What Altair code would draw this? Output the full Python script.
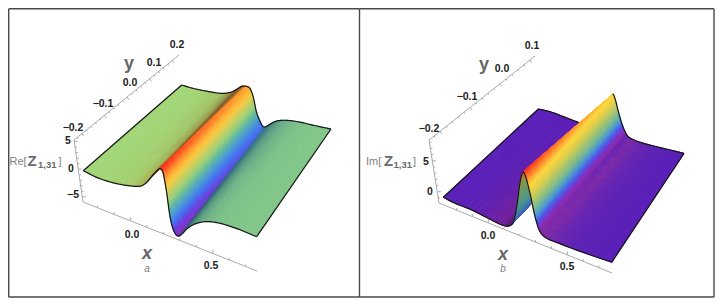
import altair as alt

alt.data_transformers.disable_max_rows()

# ---------- values ----------
A_U_NEAR = [0, .08, .18, .27, .33, .365, .40, .42, .442, .46, .48, .50, .52, .545, .57, .60, .645, .71, .79, .89, 1]
A_U_FAR = [0, .08, .18, .27, .33, .365, .40, .42, .437, .458, .48, .50, .525, .547, .57, .60, .645, .71, .79, .89, 1]
A_Z_NEAR = [0, -.3, -.1, .5, 1.2, 2.3, 4.1, 5.0, 5.85, 5.3, 2.0, -2.4, -4.7, -5.5, -4.8, -3.4, -2, -.75, -.1, .1, 0]
A_Z_FAR = [0, 0, .3, .75, 1.6, 2.5, 3.5, 3.75, 3.85, 3.6, 1.9, -1, -2.9, -3.85, -3.5, -2.6, -1.6, -.9, -.5, -.3, 0]
A_C_NEAR = ["#a3d678", "#a3d678", "#a3d474", "#a6ce6c", "#a8b858", "#a89a48", "#8f6030", "#8a4a22",
            None, None, None, None, None, None,
            "#2e5a6c", "#3a7078", "#5a9a80", "#74b888", "#80c48a", "#82c68a", "#82c68a"]
A_C_FAR = ["#a3d678", "#a3d678", "#a3d070", "#a0c068", "#94964a", "#806a3a", "#7a5a2c", "#b8702a",
           None, None, None, None, None, None,
           "#3a7a90", "#40808a", "#5a9a84", "#6fb088", "#7dc08a", "#82c68a", "#82c68a"]
A_CMAP_Z = [-5.6, -4.8, -3.8, -2.6, -1.3, 0, 1.5, 2.8, 3.8, 4.8, 5.8]
A_CMAP_C = ["#8a2fc0", "#6a3fe0", "#4470f0", "#4a98d8", "#5fb8a0", "#93cf7c", "#c8d060", "#f8c840",
            "#feae35", "#ff7a28", "#fb3820"]

B_U_NEAR = [0, .069, .168, .267, .347, .39, .416, .436, .455, .471, .489, .515, .545, .574, .614, .673, .792, 1]
B_U_FAR = [0, .08, .172, .275, .37, .42, .447, .467, .488, .51, .528, .55, .58, .61, .65, .71, .812, 1]
B_Z_NEAR = [0, -.22, -.25, -.55, -.75, -.5, .4, 2.85, 6.55, 8.35, 7.85, 5.6, 2.4, .45, -.15, -.2, -.2, 0]
B_Z_FAR = [0, .15, 0, -.2, -.3, -.3, .3, 2.0, 4.6, 6.45, 5.7, 3.7, 1.45, .1, -.3, -.4, -.3, 0]
B_C_NEAR = ["#5a20b8", "#5a20b8", "#5e20b4", "#6a20a8", "#75209a", "#5a1a70", "#3a60b8", "#4a9a90", "#8a9a40",
            None, None, None, None, None, "#7a28a8", "#6a26b0", "#5c22b6", "#5a20b8"]
B_C_FAR = ["#5a20b8", "#5a20b8", "#5a20b8", "#5c20b6", "#60209f", "#5a1a70", "#3a60b8", "#4a9a90", "#8a9a40",
           None, None, None, None, None, "#7a28a8", "#6a26b0", "#5c22b6", "#5a20b8"]
B_CMAP_Z = [-.3, 0, .5, 1.0, 1.6, 2.4, 3.3, 4.4, 5.5, 6.4, 7.1, 7.8, 8.4]
B_CMAP_C = ["#5a20b8", "#5a20b8", "#8a2aa8", "#7a30c8", "#4a58e8", "#4a98d0", "#78b890", "#b0c868", "#e8d048",
            "#fdd840", "#ffa835", "#ff6a28", "#fb2f20"]

PANELS = [
    dict(un=A_U_NEAR, uf=A_U_FAR, zn=A_Z_NEAR, zf=A_Z_FAR, cn=A_C_NEAR, cf=A_C_FAR, mz=A_CMAP_Z, mc=A_CMAP_C,
         nl=(83.3, 170.7), nr=(256.7, 236.7), fl=(181.7, 85), fr=(331, 129), kn=5.33, kf=4.6,
         far_hidden=(), o=(74, 140), yend=(179, 55), zend=(83, 202), xend=(257, 271),
         xr=(-.287, .77), yr=(-.235, .23), zr=(5.3, -5.9), yticks=22, yfirst=-.22),
    dict(un=B_U_NEAR, uf=B_U_FAR, zn=B_Z_NEAR, zf=B_Z_FAR, cn=B_C_NEAR, cf=B_C_FAR, mz=B_CMAP_Z, mc=B_CMAP_C,
         nl=(443.3, 197.3), nr=(611.7, 262.3), fl=(538.3, 109), fr=(684, 153.3), kn=6.67, kf=5.8,
         far_hidden=(3, 9), o=(429, 140), yend=(535, 56), zend=(439, 203), xend=(612, 273),
         xr=(-.31, .785), yr=(-.237, .117), zr=(8.4, -1.8), yticks=17, yfirst=-.22),
]

LABELS = [
    ("0.2", 177, 45), ("0.1", 154, 63), ("0.0", 130, 83), ("−0.1", 103, 104), ("−0.2", 73, 128),
    ("5", 68, 141), ("0", 71, 169), ("−5", 73, 195), ("0.0", 132, 235), ("0.5", 211, 266),
    ("0.1", 532, 46), ("0.0", 502, 69), ("−0.1", 467, 97), ("−0.2", 429, 129),
    ("5", 426, 162), ("0", 430, 192), ("0.0", 488, 236), ("0.5", 567, 267),
]
TITLES = [("y", 129, 64, 18, "normal"), ("y", 484, 65, 18, "normal"), ("x", 147, 254, 18, "italic"), ("x", 503, 255, 18, "italic")]
SMALL = [("a", 147, 269), ("b", 503, 269)]
ZLAB = [("Re[", 9.5, 161.5, 11, "normal"), ("Z", 27.5, 161, 15, "bold"), ("1,31", 38, 165, 9.5, "bold"), ("]", 58.5, 161.5, 11, "normal"),
        ("Im[", 366, 161.5, 11, "normal"), ("Z", 384, 161, 15, "bold"), ("1,31", 393.5, 165, 9.5, "bold"), ("]", 413, 161.5, 11, "normal")]
FRAME = [(8.7, 8.7, 8.7, 297), (8.7, 8.7, 359.5, 8.7), (8.7, 297, 359.5, 297), (359.5, 8.7, 359.5, 297),
         (359.5, 8.7, 714, 8.7), (359.5, 297, 714, 297), (714, 8.7, 714, 297)]


# ---------- drawing helpers ----------
def lerp(a, b, t):
    return a + (b - a) * t


def hx(c):
    return [int(c[i:i + 2], 16) for i in (1, 3, 5)]


def mix(c1, c2, t):
    return [lerp(a, b, t) for a, b in zip(c1, c2)]


def cmap(p, z):
    zs, cs = p["mz"], p["mc"]
    if z <= zs[0]:
        return hx(cs[0])
    for j in range(len(zs) - 1):
        if z <= zs[j + 1]:
            return mix(hx(cs[j]), hx(cs[j + 1]), (z - zs[j]) / (zs[j + 1] - zs[j]))
    return hx(cs[-1])


def slopes(u, z):
    n = len(u)
    return [(z[min(i + 1, n - 1)] - z[max(i - 1, 0)]) / (u[min(i + 1, n - 1)] - u[max(i - 1, 0)]) for i in range(n)]


def herm(u, z, m, i, t):
    h = u[i + 1] - u[i]
    return ((2 * t**3 - 3 * t**2 + 1) * z[i] + (t**3 - 2 * t**2 + t) * h * m[i]
            + (-2 * t**3 + 3 * t**2) * z[i + 1] + (t**3 - t**2) * h * m[i + 1])


def surface_fn(p):
    mn, mf = slopes(p["un"], p["zn"]), slopes(p["uf"], p["zf"])

    def point(i, t, v):
        un, uf = lerp(p["un"][i], p["un"][i + 1], t), lerp(p["uf"][i], p["uf"][i + 1], t)
        zn, zf = herm(p["un"], p["zn"], mn, i, t), herm(p["uf"], p["zf"], mf, i, t)
        nx = lerp(p["nl"][0], p["nr"][0], un)
        ny = lerp(p["nl"][1], p["nr"][1], un) - p["kn"] * zn
        fx = lerp(p["fl"][0], p["fr"][0], uf)
        fy = lerp(p["fl"][1], p["fr"][1], uf) - p["kf"] * zf
        return lerp(nx, fx, v), lerp(ny, fy, v), lerp(zn, zf, v)
    return point


def node_color(p, i, v):
    cn, cf = p["cn"][i], p["cf"][i]
    if cn is None:
        return cmap(p, lerp(p["zn"][i], p["zf"][i], v))
    return mix(hx(cn), hx(cf), v)


def cell_color(p, i, t, v, z):
    if p["cn"][i] is None and p["cn"][i + 1] is None:
        return cmap(p, z)
    return mix(node_color(p, i, v), node_color(p, i + 1, v), t)


def diff(c1, c2):
    return max(abs(a - b) for a, b in zip(c1, c2))


cells, edges, ticks = [], [], []
cid = 0
eid = 0
for p in PANELS:
    pt = surface_fn(p)
    n = len(p["un"])
    for i in range(n - 1):
        du = max(diff(node_color(p, i, v), node_color(p, i + 1, v)) for v in (0, 1))
        dv = max(diff(node_color(p, i, 0), node_color(p, i, 1)), diff(node_color(p, i + 1, 0), node_color(p, i + 1, 1)))
        nt = max(3, min(12, int(du / 5) + 1))
        nv = max(1, min(14, int(dv / 5) + 1))
        for a in range(nt):
            t0, t1 = a / nt, (a + 1) / nt
            for b in range(nv):
                v0, v1 = 1 - b / nv, 1 - (b + 1) / nv
                tm, vm = (t0 + t1) / 2, (v0 + v1) / 2
                c = cell_color(p, i, tm, vm, pt(i, tm, vm)[2])
                col = "#%02x%02x%02x" % tuple(int(round(max(0, min(255, q)))) for q in c)
                corners = [(t0, v0), (t1, v0), (t1, v1), (t0, v1), (t0, v0)]
                for k, (tt, vv) in enumerate(corners):
                    x, y, _ = pt(i, tt, vv)
                    cells.append({"x": round(x, 2), "y": round(y, 2), "k": k, "c": col, "id": cid})
                cid += 1
    # edge outline: near curve, far curve and both straight sides
    for v in (0, 1):
        k = 0
        for i in range(n - 1):
            if v == 1 and p["far_hidden"] and p["far_hidden"][0] <= i < p["far_hidden"][1]:
                eid += 1
                continue
            for a in range(8):
                x, y, _ = pt(i, a / 8, v)
                edges.append({"x": round(x, 2), "y": round(y, 2), "k": k, "id": eid})
                k += 1
            if i == n - 2 or (v == 1 and p["far_hidden"] and i + 1 == p["far_hidden"][0]):
                x, y, _ = pt(i, 1, v)
                edges.append({"x": round(x, 2), "y": round(y, 2), "k": k, "id": eid})
        eid += 1
    for c0, c1 in ((p["nl"], p["fl"]), (p["nr"], p["fr"])):
        edges.append({"x": c0[0], "y": c0[1], "k": 0, "id": eid})
        edges.append({"x": c1[0], "y": c1[1], "k": 1, "id": eid})
        eid += 1

    # axes
    ox, oy = p["zend"]
    xe, ye = p["xend"]
    ax = [{"x": p["o"][0], "y": p["o"][1], "x2": p["yend"][0], "y2": p["yend"][1]},
          {"x": p["o"][0], "y": p["o"][1], "x2": ox, "y2": oy},
          {"x": ox, "y": oy, "x2": xe, "y2": ye}]
    ticks.extend(ax)
    lo, hi = p["xr"]
    for q in range(-2, 8):
        val = q / 10
        f = (val - lo) / (hi - lo)
        L = 3.5 if q % 5 == 0 else 2
        px, py = lerp(ox, xe, f), lerp(oy, ye, f)
        ticks.append({"x": px, "y": py, "x2": px + .2 * L, "y2": py - L})
    lo, hi = p["yr"]
    for q in range(p["yticks"]):
        val = p["yfirst"] + q * .02
        f = (val - lo) / (hi - lo)
        if 0 <= f <= 1:
            L = 3.5 if q % 5 == 1 else 2
            px, py = lerp(p["o"][0], p["yend"][0], f), lerp(p["o"][1], p["yend"][1], f)
            ticks.append({"x": px, "y": py, "x2": px + .5 * L, "y2": py + .75 * L})
    hi, lo = p["zr"]
    for q in range(int(lo), int(hi) + 1):
        f = (hi - q) / (hi - lo)
        L = 3.5 if q % 5 == 0 else 2
        px, py = lerp(p["o"][0], ox, f), lerp(p["o"][1], oy, f)
        ticks.append({"x": px, "y": py, "x2": px + L, "y2": py - .1 * L})

X = alt.X("x:Q", scale=alt.Scale(domain=[8, 715], nice=False, zero=False), axis=None)
Y = alt.Y("y:Q", scale=alt.Scale(domain=[302, 8], nice=False, zero=False), axis=None)

frame = alt.Chart(alt.Data(values=[dict(x=a, y=b, x2=c, y2=d) for a, b, c, d in FRAME])).mark_rule(
    color="#4a4a4a", strokeWidth=1.4).encode(x=X, y=Y, x2="x2:Q", y2="y2:Q")
axes = alt.Chart(alt.Data(values=ticks)).mark_rule(color="#a9a9a9", strokeWidth=1).encode(x=X, y=Y, x2="x2:Q", y2="y2:Q")
surf = alt.Chart(alt.Data(values=cells)).mark_line(strokeWidth=.95).encode(
    x=X, y=Y, fill=alt.Fill("c:N", scale=None), stroke=alt.Stroke("c:N", scale=None),
    detail="id:N", order="k:Q")
outline = alt.Chart(alt.Data(values=edges)).mark_line(color="#151515", strokeWidth=1.2).encode(
    x=X, y=Y, detail="id:N", order="k:Q")
FONT = "Liberation Sans"
tick_text = alt.Chart(alt.Data(values=[dict(t=a, x=b, y=c) for a, b, c in LABELS])).mark_text(
    font=FONT, fontWeight="bold", fontSize=10.5, color="#222222").encode(x=X, y=Y, text="t:N")
title_layers = [
    alt.Chart(alt.Data(values=[dict(t=a, x=b, y=c)])).mark_text(
        font=FONT, fontWeight="bold", fontStyle=st, fontSize=sz, color="#666666").encode(x=X, y=Y, text="t:N")
    for a, b, c, sz, st in TITLES]
small_text = alt.Chart(alt.Data(values=[dict(t=a, x=b, y=c) for a, b, c in SMALL])).mark_text(
    font=FONT, fontStyle="italic", fontSize=10, color="#808080").encode(x=X, y=Y, text="t:N")
zlab_layers = [
    alt.Chart(alt.Data(values=[dict(t=a, x=b, y=c)])).mark_text(
        font=FONT, fontWeight=w, fontSize=sz, color="#808080" if w == "normal" else "#6a6a6a", align="left").encode(x=X, y=Y, text="t:N")
    for a, b, c, sz, w in ZLAB]

chart = alt.layer(frame, axes, surf, outline, tick_text, small_text, *title_layers, *zlab_layers).properties(
    width=707, height=294, padding=0, autosize=alt.AutoSizeParams(type="none"),
    background="white").configure_view(stroke=None)
chart.save("out.html", embed_options={"renderer": "svg", "actions": False})
